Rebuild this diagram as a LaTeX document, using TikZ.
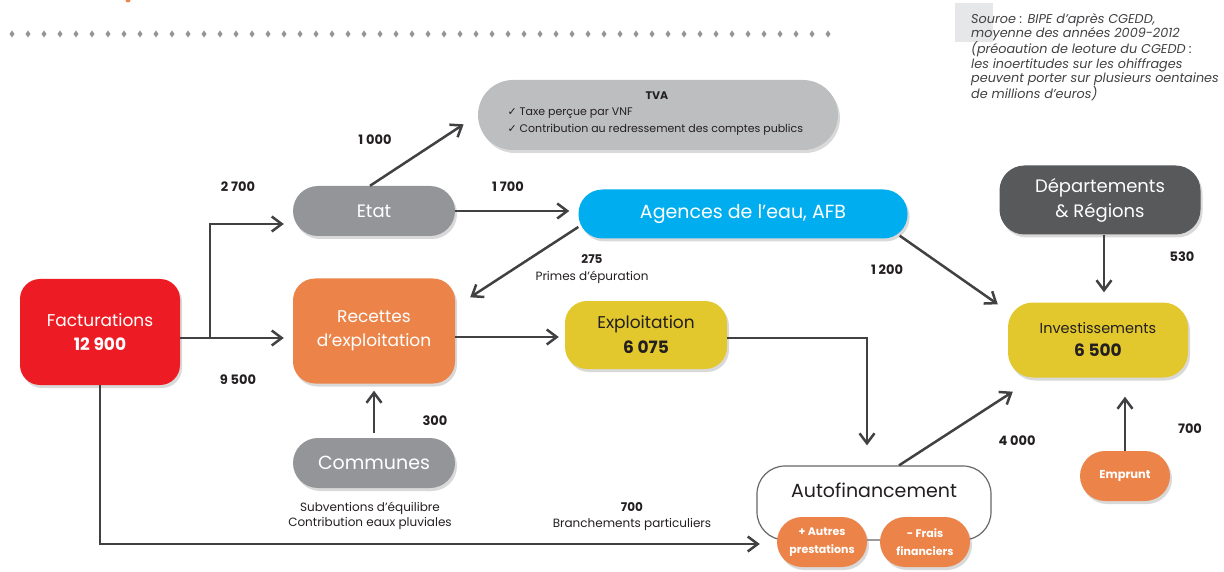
\documentclass[tikz,border=0pt]{standalone}
\usepackage{fontspec}
\setmainfont{Poppins}
\newfontfamily\coche{DejaVu Sans}
\usetikzlibrary{arrows.meta,shadows}

\begin{document}
\begin{tikzpicture}[x=1pt,y=-1pt,
  boite/.style={rounded corners=#1,inner sep=0pt,align=center,text=white,
    drop shadow={shadow xshift=2pt,shadow yshift=-3pt,opacity=0.3}},
  fleche/.style={draw=trait,line width=2.5pt,-{Straight Barb[length=10pt,width=15pt]}},
  chiffre/.style={text=texte,font=\bfseries\fontsize{13}{15}\selectfont},
  note/.style={text=texte,align=center,font=\fontsize{12}{16}\selectfont}]
\definecolor{rouge}{HTML}{ED1C24}
\definecolor{orange}{HTML}{EC844A}
\definecolor{gris}{HTML}{939598}
\definecolor{grisclair}{HTML}{BDBEC0}
\definecolor{grisfonce}{HTML}{58595B}
\definecolor{cyan}{HTML}{00AEEF}
\definecolor{jaune}{HTML}{E2C82C}
\definecolor{trait}{HTML}{414042}
\definecolor{texte}{HTML}{231F20}
\definecolor{carre}{HTML}{E6E7E8}

\useasboundingbox (0,0) rectangle (1224,572);

\fill[orange] (128,0) circle (2.5);
\foreach \i in {0,...,51}
  \fill[gris] ({12+16*\i},30.5) -- ++(2.5,3.5) -- ++(-2.5,3.5) -- ++(-2.5,-3.5) -- cycle;

\fill[carre] (955,3) rectangle (993,42);
\node[anchor=north west,align=left,inner sep=0pt,text=trait,font=\itshape\fontsize{12.8}{14.3}\selectfont] (source) at (971,13)
  {Souroe : BIPE d'après CGEDD,\\moyenne des années 2009-2012\\(préoaution de leoture du CGEDD :\\les inoertitudes sur les ohiffrages\\peuvent porter sur plusieurs oentaines\\de millions d'euros)};

\node[boite=20pt,fill=rouge,minimum width=160pt,minimum height=106pt,font=\fontsize{17}{24}\selectfont] (fact) at (100,332) {Facturations\\\textbf{12 900}};
\node[boite=25pt,fill=gris,minimum width=162pt,minimum height=50pt,font=\fontsize{18}{22}\selectfont] (etat) at (374,211) {Etat};
\node[boite=22pt,fill=orange,minimum width=162pt,minimum height=105pt,font=\fontsize{17}{24}\selectfont] (rec) at (374,331) {Recettes\\d'exploitation};
\node[boite=25pt,fill=gris,minimum width=162pt,minimum height=50pt,font=\fontsize{19}{22}\selectfont] (comm) at (374,463) {Communes};
\node[boite=35pt,fill=grisclair,minimum width=360pt,minimum height=70pt] (tva) at (658,115) {};
\node[text=texte,font=\bfseries\fontsize{11}{13}\selectfont] (tvatitre) at (657,96) {TVA};
\node[anchor=west,align=left,text=texte,font=\fontsize{11}{17}\selectfont] (tvaliste) at (504,122)
  {{\coche ✓} Taxe perçue par VNF\\{\coche ✓} Contribution au redressement des comptes publics};
\node[boite=24pt,fill=cyan,minimum width=329pt,minimum height=49pt,font=\fontsize{19}{22}\selectfont] (agences) at (743,214) {Agences de l'eau, AFB};
\node[boite=22pt,fill=jaune,minimum width=162pt,minimum height=68pt,text=texte,font=\fontsize{17}{25}\selectfont] (expl) at (646,335) {Exploitation\\\textbf{6 075}};
\node[boite=25pt,fill=grisfonce,minimum width=201pt,minimum height=69pt,font=\fontsize{18}{25}\selectfont] (dep) at (1100,200) {Départements\\\& Régions};
\node[boite=25pt,fill=jaune,minimum width=180pt,minimum height=75pt,text=texte,font=\fontsize{14.5}{23}\selectfont] (inv) at (1098,340) {Investissements\\{\fontsize{17}{23}\selectfont\textbf{6 500}}};
\node[draw=trait!80,line width=1.2pt,fill=white,rounded corners=28pt,minimum width=234pt,minimum height=74pt] (auto) at (874,503) {};
\node[text=texte,font=\fontsize{19}{22}\selectfont] (autotitre) at (874,490) {Autofinancement};
\node[boite=25pt,fill=orange,minimum width=90pt,minimum height=50pt,font=\bfseries\fontsize{11}{18}\selectfont] (autres) at (822,542) {+ Autres\\prestations};
\node[boite=25pt,fill=orange,minimum width=90pt,minimum height=50pt,font=\bfseries\fontsize{11}{18}\selectfont] (frais) at (925,542) {- Frais\\financiers};
\node[boite=25pt,fill=orange,minimum width=90pt,minimum height=50pt,font=\bfseries\fontsize{11.5}{13}\selectfont] (emp) at (1125,476) {Emprunt};

\coordinate (fourche) at (210,338);
\draw[fleche,shorten >=9pt] (fact.east |- fourche) -- (fourche -| rec.west);
\draw[fleche,shorten >=9pt] (fourche) |- ([yshift=-13pt]etat.west);
\draw[fleche,shorten >=17pt] (fact.south) |- ([yshift=-2pt]autres.west);
\draw[fleche,shorten >=17pt] ([xshift=-4pt]etat.north) -- (tva.west);
\draw[fleche,shorten >=9pt] (etat.east) -- (etat.east -| agences.west);
\draw[fleche] ([yshift=-13pt]agences.west) -- ([xshift=15pt,yshift=-19pt]rec.north east);
\draw[fleche] ([xshift=-8pt,yshift=3pt]agences.south east) -- ([xshift=-10pt,yshift=-2pt]inv.north west);
\draw[fleche,shorten >=10pt] ([xshift=4pt]dep.south) -- ([xshift=4pt]dep.south |- inv.north);
\draw[fleche,shorten >=6pt] ([yshift=-6pt]rec.east) -- ([yshift=-6pt]rec.east -| expl.west);
\draw[fleche,shorten >=20pt] ([yshift=-3pt]expl.east) -| ([xshift=-7pt]auto.north);
\draw[fleche] ([xshift=25pt]auto.north) -- ([xshift=5pt,yshift=-14pt]inv.south west);
\draw[fleche,shorten >=19pt] (emp.north) -- (emp.north |- inv.south);
\draw[fleche,shorten <=5pt,shorten >=7pt] (comm.north) -- (comm.north |- rec.south);

\node[chiffre] (n2700) at (238,187) {2 700};
\node[chiffre] (n9500) at (238,380) {9 500};
\node[chiffre] (n1000) at (375,140) {1 000};
\node[chiffre] (n1700) at (508,187) {1 700};
\node[note,font=\fontsize{12}{17}\selectfont] (primes) at (592,269) {\textbf{275}\\Primes d'épuration};
\node[chiffre] (n1200) at (887,270) {1 200};
\node[chiffre] (n530) at (1182,257) {530};
\node[chiffre] (n300) at (435,421) {300};
\node[note,font=\fontsize{12}{15}\selectfont] (subv) at (370,516) {Subventions d'équilibre\\Contribution eaux pluviales};
\node[note] (branch) at (632,517) {\textbf{700}\\Branchements particuliers};
\node[chiffre] (n4000) at (1017,441) {4 000};
\node[chiffre] (n700) at (1190,429) {700};
\end{tikzpicture}
\end{document}
